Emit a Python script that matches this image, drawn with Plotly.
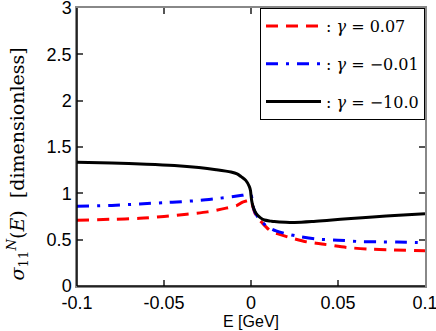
import plotly.graph_objects as go

# Data
E_black = [-0.1, -0.08, -0.06, -0.044, -0.03, -0.02, -0.0115, -0.008, -0.0057, -0.003, -0.001,
           -0.0003, 0.0, 0.0004, 0.001, 0.002, 0.0029, 0.0038, 0.0055, 0.0077, 0.0115,
           0.0134, 0.02, 0.025, 0.035, 0.045, 0.0575, 0.07, 0.085, 0.1]
S_black = [1.335, 1.327, 1.315, 1.30, 1.278, 1.255, 1.23, 1.21, 1.18, 1.14, 1.075,
           1.03, 0.98, 0.92, 0.87, 0.815, 0.785, 0.763, 0.735, 0.712, 0.70,
           0.695, 0.687, 0.685, 0.695, 0.71, 0.728, 0.745, 0.763, 0.78]

E_blue = [-0.1, -0.08, -0.064, -0.05, -0.04, -0.029, -0.019, -0.01, -0.005, -0.002, 0.0,
          0.001, 0.002, 0.003, 0.004, 0.006, 0.009, 0.0144, 0.02, 0.028, 0.037, 0.05,
          0.062, 0.073, 0.084, 0.1]
S_blue = [0.86, 0.87, 0.885, 0.90, 0.91, 0.925, 0.945, 0.965, 0.98, 0.99, 0.98,
          0.87, 0.81, 0.77, 0.74, 0.70, 0.645, 0.595, 0.565, 0.533, 0.508, 0.495,
          0.48, 0.476, 0.474, 0.466]

E_red = [-0.1, -0.08, -0.064, -0.05, -0.037, -0.025, -0.0143, -0.008, -0.0048, -0.002, 0.0,
         0.001, 0.002, 0.003, 0.004, 0.006, 0.0085, 0.0115, 0.016, 0.021, 0.032, 0.042,
         0.055, 0.068, 0.078, 0.1]
S_red = [0.71, 0.72, 0.73, 0.75, 0.775, 0.80, 0.84, 0.87, 0.905, 0.92, 0.93,
         0.86, 0.80, 0.76, 0.73, 0.69, 0.64, 0.59, 0.56, 0.53, 0.476, 0.45,
         0.416, 0.398, 0.392, 0.38]

x_ticks = [-0.1, -0.05, 0, 0.05, 0.1]
x_tick_labels = ["-0.1", "-0.05", "0", "0.05", "0.1"]
y_ticks = [0, 0.5, 1, 1.5, 2, 2.5, 3]
y_tick_labels = ["0", "0.5", "1", "1.5", "2", "2.5", "3"]

names = [": <i>γ</i> = 0.07", ": <i>γ</i> = −0.01", ": <i>γ</i> = −10.0"]

fig = go.Figure()
fig.add_trace(go.Scatter(x=E_red, y=S_red, mode="lines", name=names[0], legendgroup="a",
                         line=dict(color="#ff0000", width=3, dash="12px,8px",
                                   shape="spline", smoothing=0.8)))
fig.add_trace(go.Scatter(x=E_blue, y=S_blue, mode="lines", name=names[1], legendgroup="b",
                         line=dict(color="#0000ff", width=3, dash="12px,8px,3px,8px",
                                   shape="spline", smoothing=0.8)))
fig.add_trace(go.Scatter(x=E_black, y=S_black, mode="lines", name=names[2], legendgroup="c",
                         line=dict(color="#000000", width=3, shape="spline", smoothing=0.8)))

axis_common = dict(showline=True, linecolor="#888888", linewidth=1.5, mirror="ticks",
                   ticks="inside", ticklen=6, tickcolor="#555555", tickwidth=1.5,
                   showgrid=False, zeroline=False, automargin=False,
                   ticklabeloverflow="allow",
                   tickfont=dict(family="Liberation Sans, Arial", size=18, color="#000"))

fig.update_layout(
    width=436, height=331,
    margin=dict(l=77, r=11, t=8, b=45, autoexpand=False),
    paper_bgcolor="white", plot_bgcolor="white",
    xaxis=dict(range=[-0.1, 0.1], tickvals=x_ticks, ticktext=x_tick_labels,
               title=dict(text="E [GeV]", standoff=0,
                          font=dict(family="Liberation Sans, Arial", size=16, color="#000")),
               **axis_common),
    yaxis=dict(range=[0, 3], tickvals=y_ticks, ticktext=y_tick_labels, **axis_common),
    legend=dict(x=1, y=1, xanchor="right", yanchor="top", bgcolor="white",
                bordercolor="black", borderwidth=1, itemwidth=55, tracegroupgap=14,
                font=dict(family="DejaVu Serif", size=16, color="#000")),
    annotations=[
        dict(text="<i>σ</i><sub>11</sub><sup><i>N</i></sup>(<i>E</i>)  [dimensionless]",
             xref="paper", yref="paper", x=-0.17, y=0.44, xanchor="center", yanchor="middle",
             textangle=-90, showarrow=False,
             font=dict(family="DejaVu Serif", size=19, color="#000")),
    ],
    shapes=[
        dict(type="line", xref="paper", yref="paper", x0=0, x1=0, y0=0, y1=1,
             line=dict(color="black", width=1.5), layer="above"),
        dict(type="line", xref="paper", yref="paper", x0=0, x1=1, y0=0, y1=0,
             line=dict(color="black", width=1.5), layer="above"),
    ],
)

fig.write_html("out.html", config={"displayModeBar": False},
               post_script="document.body.style.margin='0';document.body.style.overflow='hidden';")
